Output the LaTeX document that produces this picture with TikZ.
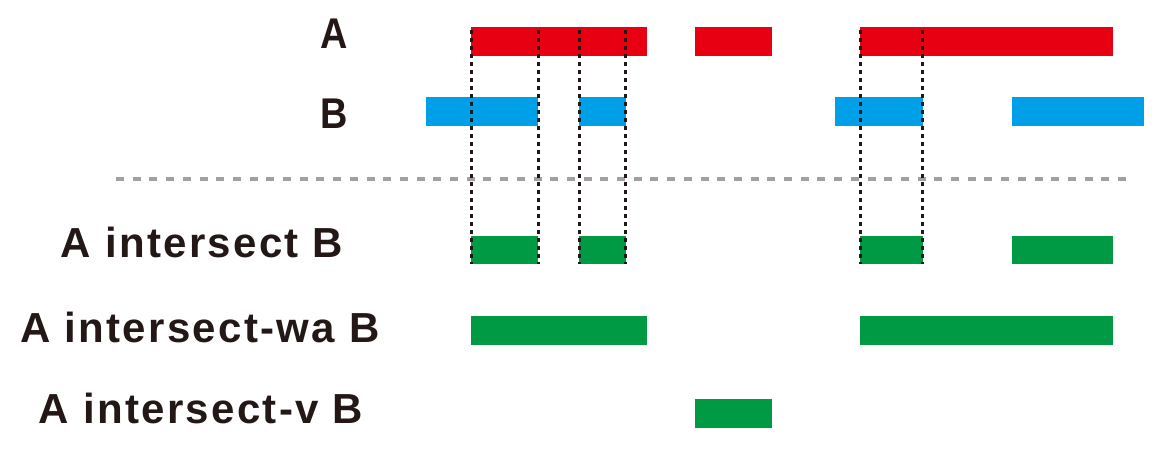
\documentclass[tikz,border=0pt]{standalone}
\usepackage{fontspec}
\setmainfont{Liberation Sans}
\newfontfamily\lblfont[LetterSpace=5.5]{Liberation Sans}
\definecolor{cred}{HTML}{E60012}
\definecolor{cblue}{HTML}{00A0E9}
\definecolor{cgreen}{HTML}{009944}
\definecolor{cgray}{HTML}{A0A0A0}
\definecolor{ctext}{HTML}{231815}
\tikzset{
  toplbl/.style={text=ctext, font=\fontsize{43}{43}\selectfont\bfseries, inner sep=0, xscale=0.88},
  botlbl/.style={text=ctext, font=\fontsize{42}{42}\selectfont\lblfont\bfseries, inner sep=0},
  dotline/.style={ctext, line width=3.4pt, dash pattern=on 4pt off 4pt},
  sepline/.style={cgray, line width=3.3pt, dash pattern=on 8pt off 8.7pt},
}
\begin{document}
\begin{tikzpicture}[x=1pt,y=-1pt]
\useasboundingbox (0,0) rectangle (1158,453);
% labels
\node[toplbl] (la) at (334,34) {A};
\node[toplbl] (lb) at (334,114) {B};
\node[botlbl] (li) at (202,242) {A intersect B};
\node[botlbl] (lw) at (200,327) {A intersect-wa B};
\node[botlbl] (lv) at (201,408) {A intersect-v B};
% A
\fill[cred] (471,27) rectangle (647,56);
\fill[cred] (695,27) rectangle (772,56);
\fill[cred] (860,27) rectangle (1113,56);
% B
\fill[cblue] (426,97) rectangle (538,126);
\fill[cblue] (579,97) rectangle (626,126);
\fill[cblue] (835,97) rectangle (923,126);
\fill[cblue] (1012,97) rectangle (1144,126);
% separator
\coordinate (s1) at (116,179);
\coordinate (s2) at (1128,179);
\draw[sepline] (s1) -- (s2);
% intersect
\fill[cgreen] (471,236) rectangle (538,264);
\fill[cgreen] (579,236) rectangle (626,264);
\fill[cgreen] (860,236) rectangle (923,264);
\fill[cgreen] (1012,236) rectangle (1113,264);
% intersect-wa
\fill[cgreen] (471,316) rectangle (647,345);
\fill[cgreen] (860,316) rectangle (1113,345);
% intersect-v
\fill[cgreen] (695,399) rectangle (772,428);
% dotted guides
\foreach \x [count=\i] in {471.3,538.5,579.3,625.5,860.3,922.3}{
  \coordinate (t\i) at (\x,30);
  \coordinate (b\i) at (\x,264);
  \draw[dotline] (t\i) -- (b\i);
}
\end{tikzpicture}
\end{document}
